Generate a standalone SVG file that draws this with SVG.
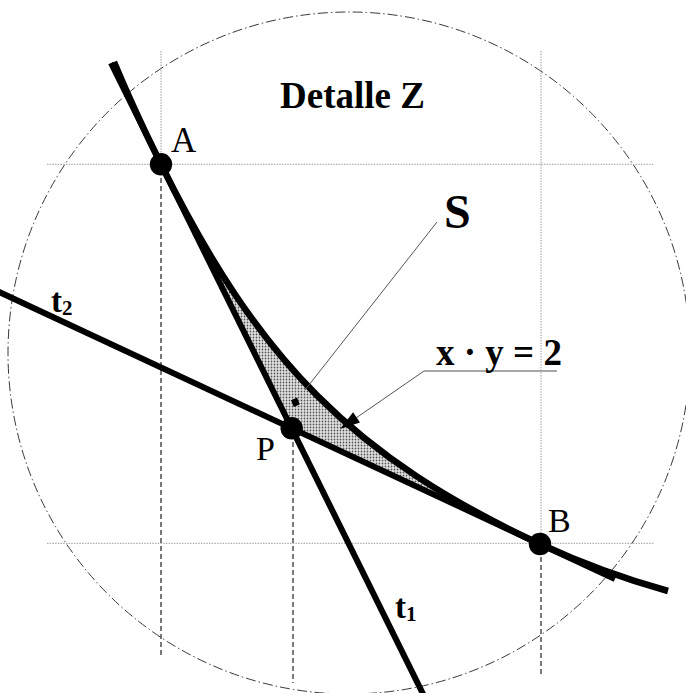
<svg xmlns="http://www.w3.org/2000/svg" width="686" height="693" viewBox="0 0 686 693">
  <defs>
    <pattern id="dots" patternUnits="userSpaceOnUse" width="3" height="3">
      <rect width="3" height="3" fill="#e4e4e4"/>
      <circle cx="1.5" cy="1.5" r="0.9" fill="#555"/>
    </pattern>
  </defs>
  <style>
    .bg { fill: #ffffff; }
    .circ { fill: none; stroke: #222; stroke-width: 0.9; stroke-dasharray: 10 3 1.5 3; }
    .grid { fill: none; stroke: #9a9a9a; stroke-width: 1; stroke-dasharray: 1.5 1.2; }
    .proj { fill: none; stroke: #333; stroke-width: 1.3; stroke-dasharray: 5 3; }
    .thick { fill: none; stroke: #000; stroke-width: 6; stroke-linecap: butt; }
    .curve { fill: none; stroke: #000; stroke-width: 6.5; stroke-linecap: butt; }
    .lead { fill: none; stroke: #555; stroke-width: 1; }
    .under { fill: none; stroke: #8a8a8a; stroke-width: 1.5; }
    .dot { fill: #000; }
    .lbl { font-family: "Liberation Serif", "Times New Roman", serif; fill: #000; }
    .b { font-weight: bold; }
  </style>
  <rect class="bg" x="0" y="0" width="686" height="693"/>

  <g id="detail-circle">
    <circle class="circ" cx="349" cy="353" r="341"/>
  </g>

  <g id="grid">
    <line class="grid" x1="47" y1="164.3" x2="653" y2="164.3"/>
    <line class="grid" x1="47" y1="543.3" x2="654" y2="543.3"/>
    <line class="grid" x1="161" y1="51" x2="161" y2="164"/>
    <line class="grid" x1="541" y1="51" x2="541" y2="543"/>
    <line class="proj" x1="161" y1="170" x2="161" y2="655"/>
    <line class="proj" x1="541" y1="549" x2="541" y2="676"/>
    <line class="proj" x1="293" y1="434" x2="293" y2="683"/>
  </g>

  <g id="area-S">
    <path d="M161 164.3 C259 362.3 353.8 457.2 540 544 L291.7 428.3 Z" fill="url(#dots)"/>
    <polygon points="291,400.3 297,397.6 299.8,404.3 293.8,407" fill="#000"/>
  </g>

  <g id="connectors">
    <line id="t1-line" class="thick" x1="111" y1="63" x2="426" y2="700"/>
    <line id="t2-line" class="thick" x1="-2" y1="291.5" x2="615" y2="579"/>
    <path id="hyperbola" class="curve" d="M114 62 Q135 112 161 164.3 C259 362.3 353.8 457.2 540 544 Q602 572.7 668 591"/>
    <line id="S-leader" class="lead" x1="437" y1="222" x2="305" y2="390"/>
    <line id="xy-underline" class="under" x1="424" y1="371" x2="557" y2="371"/>
    <line id="xy-leader" class="lead" x1="424" y1="371" x2="356" y2="418"/>
    <polygon id="xy-arrow" points="340,429 360,422.6 353.1,412.3" fill="#000"/>
  </g>

  <g id="point-A">
    <circle class="dot" cx="161" cy="164.3" r="11.2"/>
    <text class="lbl" x="171" y="152" font-size="35">A</text>
  </g>
  <g id="point-P">
    <circle class="dot" cx="291.7" cy="428.3" r="11.2"/>
    <text class="lbl" x="256" y="460" font-size="34">P</text>
  </g>
  <g id="point-B">
    <circle class="dot" cx="540" cy="544" r="11.2"/>
    <text class="lbl" x="548" y="532" font-size="34">B</text>
  </g>

  <g id="labels">
    <text id="title" class="lbl b" x="280" y="108" font-size="37">Detalle Z</text>
    <text id="label-S" class="lbl b" x="444" y="228" font-size="48">S</text>
    <text id="label-xy" class="lbl b" x="436" y="365" font-size="37">x · y = 2</text>
    <text id="label-t2" class="lbl b" x="51" y="312" font-size="33">t<tspan font-size="21" dy="3">2</tspan></text>
    <text id="label-t1" class="lbl b" x="395" y="618" font-size="33">t<tspan font-size="21" dy="3">1</tspan></text>
  </g>
</svg>
